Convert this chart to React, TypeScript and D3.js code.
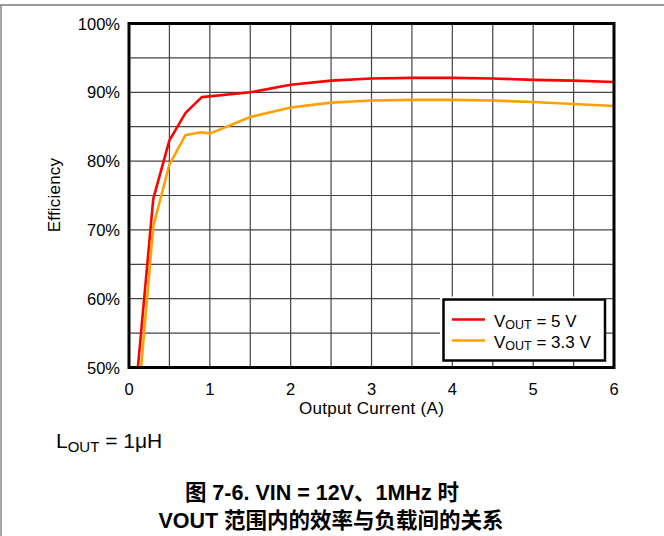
import React from "react";
import * as d3 from "d3";

// Output current (A) and efficiency (%) for each output voltage
const current5V = [0.11, 0.3, 0.5, 0.7, 0.9, 1.5, 2, 2.5, 3, 3.5, 4, 4.5, 5, 5.5, 6];
const eff5V = [50, 74.5, 83, 87, 89.3, 90, 91.1, 91.7, 92.0, 92.1, 92.1, 92.0, 91.8, 91.7, 91.5];

const current3V3 = [0.15, 0.3, 0.5, 0.7, 0.9, 1.0, 1.5, 2, 2.5, 3, 3.5, 4, 4.5, 5, 5.5, 6];
const eff3V3 = [50, 70.5, 79.5, 83.8, 84.2, 84.0, 86.4, 87.8, 88.5, 88.8, 88.9, 88.9, 88.8, 88.6, 88.3, 88.0];

const xTicks = [0, 1, 2, 3, 4, 5, 6];
const yTicks = [50, 60, 70, 80, 90, 100];
const xGrid = d3.range(0, 6.01, 0.5);
const yGrid = d3.range(50, 100.01, 5);

const seriesNames = ["5 V", "3.3 V"];
const seriesColors = ["#FF0000", "#FFA000"];

const W = 664;
const H = 536;
const FONT = "'Liberation Sans', Arial, sans-serif";
const CAPTION_FONT = "'Liberation Sans', Arial, 'Noto Sans CJK SC', sans-serif";

export default function App() {
  const x = d3.scaleLinear().domain([0, 6]).range([129, 614]);
  const y = d3.scaleLinear().domain([50, 100]).range([367.5, 23.5]);

  const line = d3
    .line<[number, number]>()
    .x((d) => x(d[0]))
    .y((d) => y(d[1]))
    .curve(d3.curveLinear);

  const series = [
    current5V.map((c, i) => [c, eff5V[i]] as [number, number]),
    current3V3.map((c, i) => [c, eff3V3[i]] as [number, number]),
  ];

  const [x0, x1] = x.range();
  const [y1, y0] = y.range();

  // legend box
  const lg = { x: 443.5, y: 299.5, w: 161.5, h: 61 };

  return (
    <svg
      width={W}
      height={H}
      style={{ position: "absolute", left: 0, top: 0, background: "#fff" }}
      fontFamily={FONT}
    >
      {/* page border */}
      <line x1={0} x2={W} y1={5} y2={5} stroke="#777" strokeWidth={1.5} />
      <line x1={1} x2={1} y1={5} y2={H} stroke="#888" strokeWidth={1.5} />

      <defs>
        <clipPath id="plotClip">
          <rect x={x0} y={y0} width={x1 - x0} height={y1 - y0} />
        </clipPath>
      </defs>

      {/* grid */}
      {xGrid.map((g) => (
        <line key={"gx" + g} x1={x(g)} x2={x(g)} y1={y0} y2={y1} stroke="#444" strokeWidth={1.2} />
      ))}
      {yGrid.map((g) => (
        <line key={"gy" + g} x1={x0} x2={x1} y1={y(g)} y2={y(g)} stroke="#444" strokeWidth={1.2} />
      ))}

      {/* curves */}
      <g clipPath="url(#plotClip)">
        {series.map((s, i) => (
          <path
            key={i}
            d={line(s) || ""}
            fill="none"
            stroke={seriesColors[i]}
            strokeWidth={2.6}
            strokeLinejoin="round"
          />
        ))}
      </g>

      {/* legend */}
      <rect x={440} y={296.5} width={166} height={64.5} fill="#fff" />
      <rect x={lg.x} y={lg.y} width={lg.w} height={lg.h} fill="#fff" stroke="#000" strokeWidth={2.5} />
      {seriesNames.map((n, i) => {
        const ly = 319.5 + i * 21;
        return (
          <g key={n}>
            <line x1={452} x2={485} y1={ly} y2={ly} stroke={seriesColors[i]} strokeWidth={2.6} />
            <text x={494} y={ly + 7} fontSize={17} fill="#000">
              V
              <tspan fontSize={12.5} dy={2}>OUT</tspan>
              <tspan dy={-2}>{" = " + n}</tspan>
            </text>
          </g>
        );
      })}

      {/* frame */}
      <rect x={x0} y={y0} width={x1 - x0} height={y1 - y0} fill="none" stroke="#000" strokeWidth={3} />

      {/* y tick labels */}
      {yTicks.map((t) => (
        <text key={"yt" + t} x={120} y={y(t) + 6} textAnchor="end" fontSize={16.5} fill="#000">
          {t + "%"}
        </text>
      ))}
      {/* x tick labels */}
      {xTicks.map((t) => (
        <text key={"xt" + t} x={x(t)} y={395} textAnchor="middle" fontSize={16.5} fill="#000">
          {t}
        </text>
      ))}

      {/* axis titles */}
      <text x={371.5} y={414} textAnchor="middle" fontSize={17} letterSpacing={0.3} fill="#000">
        Output Current (A)
      </text>
      <text
        transform="translate(60,195) rotate(-90)"
        textAnchor="middle"
        fontSize={17}
        letterSpacing={0.2}
        fill="#000"
      >
        Efficiency
      </text>

      {/* inductor note */}
      <text x={56} y={448} fontSize={21} fill="#000">
        L
        <tspan fontSize={15} dy={4}>OUT</tspan>
        <tspan dy={-4}>{" = 1μH"}</tspan>
      </text>

      {/* caption */}
      <text x={322} y={500} textAnchor="middle" fontSize={21.5} fontWeight="bold" fontFamily={CAPTION_FONT} fill="#000">
        图 7-6. VIN = 12V、1MHz 时
      </text>
      <text x={331} y={528} textAnchor="middle" fontSize={21.5} fontWeight="bold" fontFamily={CAPTION_FONT} fill="#000">
        VOUT 范围内的效率与负载间的关系
      </text>
    </svg>
  );
}
